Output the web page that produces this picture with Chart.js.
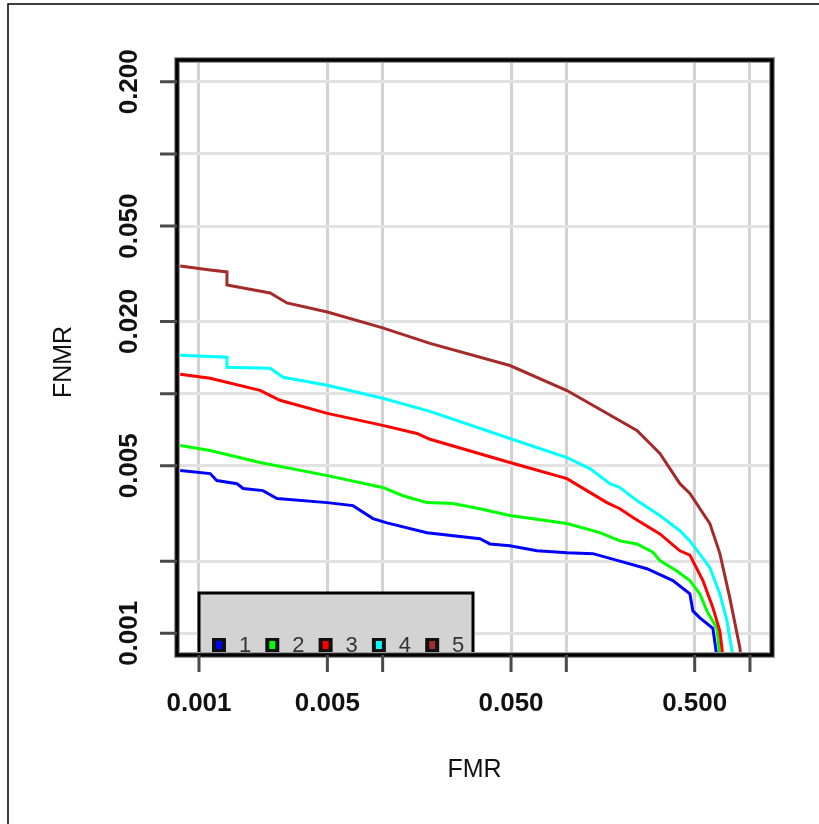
<!DOCTYPE html>
<html>
<head>
<meta charset="utf-8">
<script src="https://cdn.jsdelivr.net/npm/chart.js@4"></script>
<style>
 html, body { margin: 0; background: #fff; }
 #wrap { width: 819px; height: 824px; }
</style>
</head>
<body>
<div id="wrap"><canvas id="det" width="819" height="824"></canvas></div>
<script>
// DET curves, FMR vs FNMR on log-log axes
const seriesNames = ["1", "2", "3", "4", "5"];
const seriesColors = ["#0000ff", "#00ff00", "#ff0000", "#00ffff", "#a52a2a"];

const fmr1 = [0.00079, 0.00115, 0.00125, 0.00161, 0.00174, 0.00223, 0.00266, 0.0050, 0.00689, 0.00886, 0.01055, 0.01742, 0.03385, 0.03838, 0.0493, 0.0692, 0.1008, 0.1396, 0.1958, 0.2747, 0.3804, 0.4708, 0.4889, 0.5337, 0.6281, 0.6604, 0.67];
const fnmr1 = [0.00478, 0.00464, 0.00434, 0.00421, 0.00402, 0.00394, 0.00365, 0.00351, 0.00341, 0.00301, 0.00289, 0.00263, 0.00248, 0.00236, 0.00232, 0.00221, 0.00217, 0.00215, 0.00200, 0.00186, 0.00166, 0.00146, 0.00124, 0.00116, 0.00105, 0.00080, 0.0007];

const fmr2 = [0.00079, 0.00115, 0.00215, 0.0050, 0.0100, 0.0129, 0.01742, 0.02414, 0.03385, 0.0493, 0.1008, 0.1524, 0.1958, 0.2423, 0.2961, 0.3232, 0.4000, 0.4708, 0.5337, 0.5827, 0.6604, 0.6859, 0.69];
const fnmr2 = [0.00608, 0.00579, 0.00516, 0.00455, 0.00406, 0.00375, 0.00351, 0.00348, 0.00331, 0.00310, 0.00287, 0.00263, 0.00243, 0.00236, 0.00218, 0.00201, 0.00182, 0.00166, 0.00146, 0.00124, 0.00105, 0.00080, 0.0007];

const fmr3 = [0.00079, 0.00115, 0.00215, 0.00276, 0.0050, 0.0100, 0.01537, 0.0181, 0.0493, 0.1008, 0.1294, 0.1663, 0.1958, 0.2305, 0.3232, 0.4153, 0.4708, 0.5543, 0.6281, 0.6859, 0.7122, 0.72];
const fnmr3 = [0.01204, 0.01159, 0.01032, 0.00938, 0.00827, 0.00737, 0.00682, 0.00645, 0.00516, 0.00442, 0.00394, 0.00351, 0.00331, 0.00304, 0.00260, 0.00221, 0.00212, 0.00166, 0.00128, 0.00102, 0.00080, 0.0007];

const fmr4 = [0.00079, 0.00142, 0.00142, 0.00244, 0.00287, 0.0050, 0.0100, 0.0181, 0.0493, 0.1008, 0.1344, 0.1727, 0.1958, 0.2423, 0.3232, 0.4153, 0.4708, 0.6050, 0.6859, 0.7488, 0.8072, 0.82];
const fnmr4 = [0.01447, 0.01419, 0.01288, 0.01276, 0.01170, 0.01083, 0.00956, 0.00843, 0.00650, 0.00541, 0.00487, 0.00421, 0.00406, 0.00358, 0.00310, 0.00268, 0.00243, 0.00188, 0.00146, 0.00113, 0.00080, 0.0007];

const fmr5 = [0.00079, 0.00115, 0.00142, 0.00142, 0.00244, 0.00301, 0.0050, 0.0100, 0.0181, 0.0493, 0.1008, 0.2423, 0.3232, 0.4153, 0.4708, 0.6050, 0.6859, 0.7775, 0.8810, 0.91];
const fnmr5 = [0.0341, 0.0328, 0.0322, 0.0284, 0.0263, 0.0239, 0.0219, 0.0188, 0.0162, 0.0131, 0.0103, 0.00702, 0.00563, 0.00421, 0.00383, 0.00287, 0.00215, 0.00140, 0.00087, 0.0007];

const fmrValues = [fmr1, fmr2, fmr3, fmr4, fmr5];
const fnmrValues = [fnmr1, fnmr2, fnmr3, fnmr4, fnmr5];

const xTicks = [0.001, 0.005, 0.01, 0.05, 0.1, 0.5, 1];
const xTickLabels = ["0.001", "0.005", "", "0.050", "", "0.500", ""];
const yTicks = [0.001, 0.002, 0.005, 0.01, 0.02, 0.05, 0.1, 0.2];
const yTickLabels = ["0.001", "", "0.005", "", "0.020", "0.050", "", "0.200"];

const datasets = seriesNames.map((name, i) => ({
 label: name,
 data: fmrValues[i].map((x, j) => ({ x: x, y: fnmrValues[i][j] })),
 borderColor: seriesColors[i],
 borderWidth: 3,
 pointRadius: 0,
 tension: 0,
 fill: false,
 clip: 0,
 order: seriesNames.length - i,
}));

// frame, ticks, labels and the legend box are painted by hand
const framePlugin = {
 id: "frame",
 afterDraw(chart) {
  const ctx = chart.ctx;
  const area = chart.chartArea;
  const xs = chart.scales.x;
  const ys = chart.scales.y;

  // legend in the lower left corner, cut off by the plot edge
  ctx.save();
  ctx.beginPath();
  ctx.rect(area.left, area.top, area.right - area.left, area.bottom - area.top);
  ctx.clip();
  const bx = area.left + 22;
  const by = area.bottom - 62;
  ctx.fillStyle = "#d3d3d3";
  ctx.fillRect(bx, by, 274, 100);
  ctx.strokeStyle = "#000";
  ctx.lineWidth = 3;
  ctx.strokeRect(bx, by, 274, 100);
  ctx.font = "22px 'Liberation Sans', Arial, sans-serif";
  ctx.textBaseline = "middle";
  ctx.textAlign = "center";
  seriesNames.forEach((name, i) => {
   const cx = bx + 20 + i * 53.3;
   const cy = area.bottom - 10;
   ctx.fillStyle = "#111";
   ctx.fillRect(cx - 7, cy - 7, 14, 14);
   ctx.fillStyle = seriesColors[i];
   ctx.fillRect(cx - 3, cy - 4, 6, 8);
   ctx.fillStyle = "#333";
   ctx.fillText(name, cx + 26, cy + 1);
  });
  ctx.restore();

  // plot frame
  ctx.save();
  ctx.strokeStyle = "#9a9a9a";
  ctx.lineWidth = 6;
  ctx.strokeRect(area.left, area.top, area.right - area.left, area.bottom - area.top);
  ctx.strokeStyle = "#000";
  ctx.lineWidth = 3.5;
  ctx.strokeRect(area.left, area.top, area.right - area.left, area.bottom - area.top);

  // tick marks
  ctx.strokeStyle = "#4a4a4a";
  ctx.lineWidth = 3;
  ctx.beginPath();
  xTicks.forEach((v) => {
   const px = xs.getPixelForValue(v);
   ctx.moveTo(px, area.bottom);
   ctx.lineTo(px, area.bottom + 17);
  });
  yTicks.forEach((v) => {
   const py = ys.getPixelForValue(v);
   ctx.moveTo(area.left - 17, py);
   ctx.lineTo(area.left, py);
  });
  ctx.stroke();

  // tick labels
  ctx.fillStyle = "#111";
  ctx.font = "bold 26px 'Liberation Sans', Arial, sans-serif";
  ctx.textAlign = "center";
  ctx.textBaseline = "middle";
  xTicks.forEach((v, i) => {
   if (xTickLabels[i]) ctx.fillText(xTickLabels[i], xs.getPixelForValue(v), area.bottom + 49);
  });
  yTicks.forEach((v, i) => {
   if (!yTickLabels[i]) return;
   ctx.save();
   ctx.translate(area.left - 47, ys.getPixelForValue(v));
   ctx.rotate(-Math.PI / 2);
   ctx.fillText(yTickLabels[i], 0, 0);
   ctx.restore();
  });

  // axis titles
  ctx.font = "25px 'Liberation Sans', Arial, sans-serif";
  ctx.fillText("FMR", (area.left + area.right) / 2, area.bottom + 115);
  ctx.save();
  ctx.translate(64, 362);
  ctx.rotate(-Math.PI / 2);
  ctx.fillText("FNMR", 0, 0);
  ctx.restore();

  // outer figure border
  ctx.strokeStyle = "#000";
  ctx.lineWidth = 1.5;
  ctx.beginPath();
  ctx.moveTo(8, chart.height + 2);
  ctx.lineTo(8, 4);
  ctx.lineTo(chart.width + 2, 4);
  ctx.stroke();
  ctx.restore();
 },
};

const config = {
 type: "line",
 data: { datasets: datasets },
 options: {
  responsive: false,
  animation: false,
  layout: { padding: { left: 177, right: 47, top: 60, bottom: 169 } },
  plugins: {
   legend: { display: false },
   tooltip: { enabled: false },
  },
  scales: {
   x: {
    type: "logarithmic",
    min: 0.000759,
    max: 1.318,
    afterBuildTicks: (scale) => { scale.ticks = xTicks.map((v) => ({ value: v })); },
    afterFit: (scale) => { scale.height = 0; },
    ticks: { display: false },
    grid: { color: "#d2d2d2", lineWidth: 3, drawTicks: false },
    border: { display: false },
   },
   y: {
    type: "logarithmic",
    min: 0.000812,
    max: 0.2466,
    afterBuildTicks: (scale) => { scale.ticks = yTicks.map((v) => ({ value: v })); },
    afterFit: (scale) => { scale.width = 0; },
    ticks: { display: false },
    grid: { color: "#e2e2e2", lineWidth: 3, drawTicks: false },
    border: { display: false },
   },
  },
 },
 plugins: [framePlugin],
};

const detChart = new Chart(document.getElementById("det"), config);
</script>
</body>
</html>
